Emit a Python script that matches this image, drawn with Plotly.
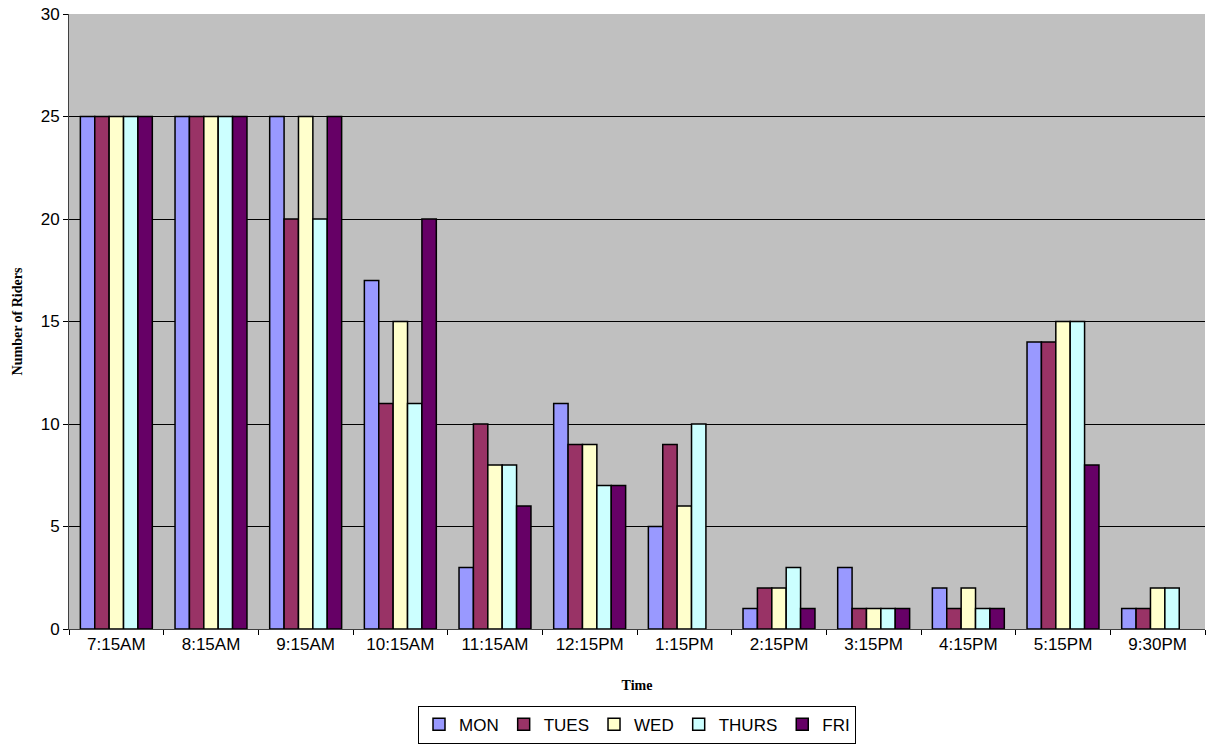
import plotly.graph_objects as go

times = ["7:15AM", "8:15AM", "9:15AM", "10:15AM", "11:15AM", "12:15PM",
         "1:15PM", "2:15PM", "3:15PM", "4:15PM", "5:15PM", "9:30PM"]

mon = [25, 25, 25, 17, 3, 11, 5, 1, 3, 2, 14, 1]
tues = [25, 25, 20, 11, 10, 9, 9, 2, 1, 1, 14, 1]
wed = [25, 25, 25, 15, 8, 9, 6, 2, 1, 2, 15, 2]
thurs = [25, 25, 20, 11, 8, 7, 10, 3, 1, 1, 15, 2]
fri = [25, 25, 25, 20, 6, 7, None, 1, 1, 1, 8, None]

series = [
    ("MON", mon, "#9999FF"),
    ("TUES", tues, "#993366"),
    ("WED", wed, "#FFFFCC"),
    ("THURS", thurs, "#CCFFFF"),
    ("FRI", fri, "#660066"),
]

fig = go.Figure()
for name, vals, color in series:
    fig.add_trace(go.Bar(
        name=name, x=times, y=vals,
        marker=dict(color=color, line=dict(color="black", width=1.5)),
    ))

fig.update_layout(
    width=1207, height=746,
    margin=dict(l=69, r=2, t=14, b=117),
    paper_bgcolor="white",
    plot_bgcolor="#C0C0C0",
    barmode="group",
    bargap=0.24,
    bargroupgap=0,
    font=dict(family="Liberation Sans, Arial", size=17, color="black"),
    legend=dict(
        orientation="h", x=0.5, xanchor="center",
        yref="container", y=0.054, yanchor="top",
        bordercolor="black", borderwidth=1,
        font=dict(size=17), itemwidth=30, traceorder="normal",
        tracegroupgap=0, itemclick=False,
    ),
    xaxis=dict(
        type="category",
        tickson="boundaries",
        ticks="outside", ticklen=5, tickcolor="black",
        showline=True, linecolor="#404040", linewidth=1,
        showgrid=False, automargin=False,
        title=dict(text="<b>Time</b>", standoff=26,
                   font=dict(family="Liberation Serif, Times New Roman", size=14)),
    ),
    yaxis=dict(
        range=[0, 30], dtick=5,
        ticks="outside", ticklen=5, tickcolor="black",
        showline=True, linecolor="#404040", linewidth=1,
        showgrid=True, gridcolor="black", gridwidth=1,
        zeroline=False, automargin=False,
        title=dict(text="<b>Number of Riders</b>", standoff=14,
                   font=dict(family="Liberation Serif, Times New Roman", size=14)),
    ),
)

fig.write_html("out.html")
